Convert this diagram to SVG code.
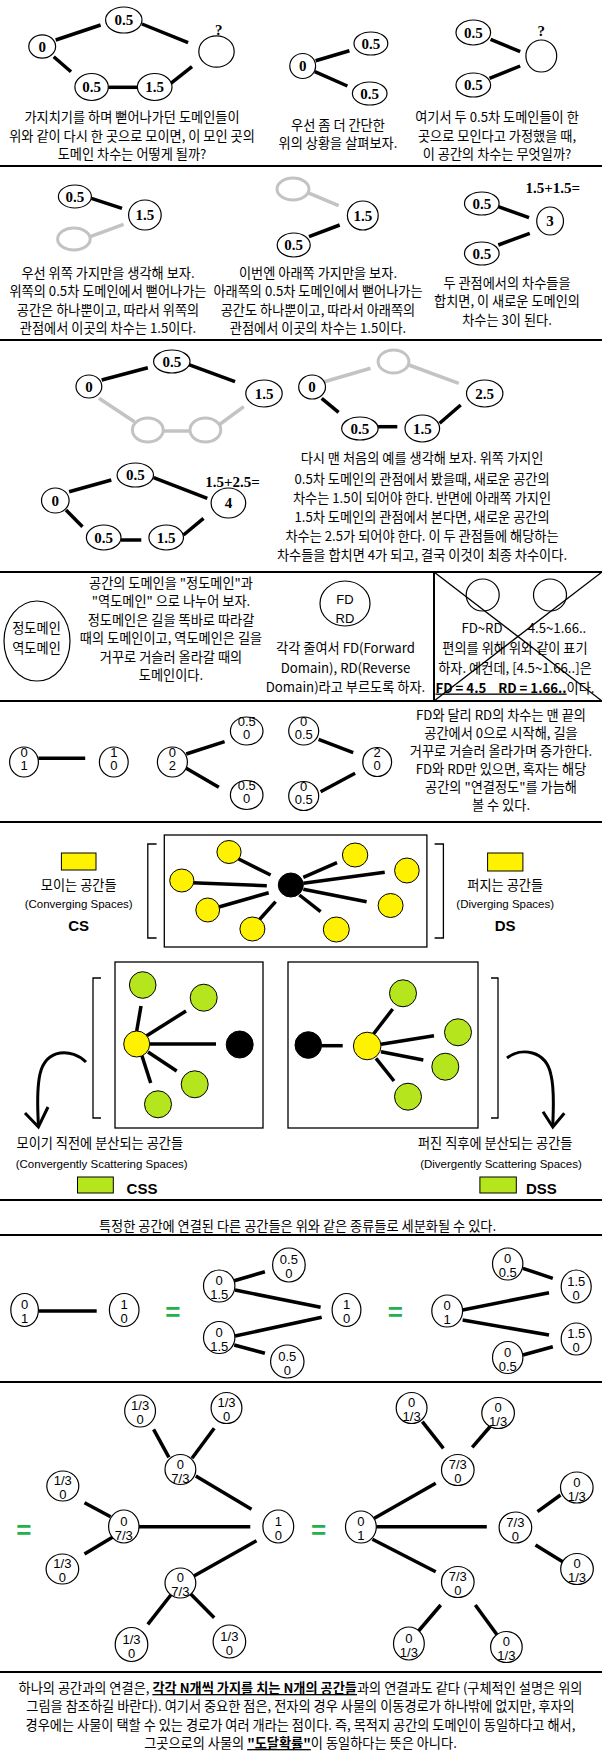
<svg xmlns="http://www.w3.org/2000/svg" width="602" height="1761" viewBox="0 0 602 1761">
<style>
.k{font-family:"Noto Sans CJK KR","Noto Sans",sans-serif;font-size:13.2px;text-anchor:middle;fill:#000}
.n{font-family:"Liberation Serif",serif;font-weight:bold;font-size:15px;text-anchor:middle;fill:#000}
.d{font-family:"Liberation Sans",sans-serif;font-size:13px;text-anchor:middle;fill:#000}
.l{font-family:"Liberation Sans",sans-serif;font-size:11.5px;text-anchor:middle;fill:#000}
.b{font-family:"Liberation Sans",sans-serif;font-weight:bold;font-size:15px;text-anchor:middle;fill:#000}
.eq{font-family:"Liberation Sans",sans-serif;font-weight:bold;font-size:26px;text-anchor:middle;fill:#22b14c}
.e{fill:#fff;stroke:#000;stroke-width:1.2}
.gc{fill:#fff;stroke:#c3c3c3;stroke-width:3}
.y{fill:#fff200;stroke:#000;stroke-width:1}
.gr{fill:#b5e61d;stroke:#000;stroke-width:1}
.bk{fill:#000;stroke:#000;stroke-width:1}
.sep{stroke:#000;stroke-width:2}
#connectors line{stroke:#000;stroke-width:3.5}
#connectors line.g{stroke:#c3c3c3}
#connectors path{fill:none;stroke:#000;stroke-width:3}
.thin{stroke:#000;stroke-width:1.3;fill:none}
</style>
<rect width="602" height="1761" fill="#fff"/>

<g id="separators">
<line class="sep" x1="0" y1="166" x2="602" y2="166"/>
<line class="sep" x1="0" y1="340" x2="602" y2="340"/>
<line class="sep" x1="0" y1="572" x2="602" y2="572"/>
<line class="sep" x1="0" y1="701" x2="602" y2="701"/>
<line class="sep" x1="434" y1="572" x2="434" y2="701"/>
<line class="sep" x1="0" y1="822" x2="602" y2="822"/>
<line class="sep" x1="0" y1="1200" x2="602" y2="1200"/>
<line class="sep" x1="0" y1="1235" x2="602" y2="1235"/>
<line class="sep" x1="0" y1="1382" x2="602" y2="1382"/>
<line class="sep" x1="0" y1="1672" x2="602" y2="1672"/>
</g>

<g id="connectors">
<!-- panel 1 -->
<line x1="55.7" y1="40" x2="100.6" y2="25"/>
<line x1="142" y1="24" x2="188.1" y2="42.7"/>
<line x1="53.7" y1="56.7" x2="71" y2="71.7"/>
<line x1="108.3" y1="87.3" x2="137.4" y2="87.3"/>
<line x1="170.8" y1="83.3" x2="192" y2="66.7"/>
<line x1="315.6" y1="60.7" x2="349.4" y2="50.7"/>
<line x1="314.8" y1="71.7" x2="347.4" y2="86"/>
<line x1="490.6" y1="39.3" x2="520.2" y2="51.7"/>
<line x1="489.5" y1="78.3" x2="520.2" y2="66"/>
<!-- panel 2 -->
<line x1="91.4" y1="198.3" x2="122" y2="208.3"/>
<line class="g" x1="90.2" y1="236.7" x2="123.6" y2="224.3"/>
<line class="g" x1="307.1" y1="192.3" x2="338.6" y2="205.7"/>
<line x1="309" y1="236.7" x2="339.7" y2="225"/>
<line x1="498.3" y1="206.7" x2="529" y2="217.7"/>
<line x1="498.3" y1="245" x2="529.8" y2="233.3"/>
<!-- panel 3 -->
<line x1="101.7" y1="380" x2="147.8" y2="367.7"/>
<line x1="188.1" y1="364.3" x2="235" y2="381.7"/>
<line class="g" x1="99" y1="398.3" x2="134.4" y2="421.7"/>
<line class="g" x1="163.2" y1="431" x2="190" y2="431"/>
<line class="g" x1="218.8" y1="425" x2="243.8" y2="406.7"/>
<line class="g" x1="324.4" y1="381.7" x2="370.5" y2="368.3"/>
<line class="g" x1="408.9" y1="365" x2="458.8" y2="383.3"/>
<line x1="321.7" y1="398.3" x2="338.6" y2="412.3"/>
<line x1="378.1" y1="426.7" x2="397.3" y2="426.7"/>
<line x1="439.6" y1="423.3" x2="460.7" y2="405"/>
<line x1="69.1" y1="491.7" x2="111.3" y2="480"/>
<line x1="153.6" y1="477.7" x2="207.3" y2="498.3"/>
<line x1="66" y1="510" x2="82.5" y2="526.7"/>
<line x1="120.9" y1="540" x2="141.3" y2="540"/>
<line x1="183.5" y1="535" x2="203.5" y2="518.3"/>
<!-- panel 5 -->
<line x1="38.4" y1="758.3" x2="85.2" y2="758.3"/>
<line x1="186.2" y1="754" x2="224.6" y2="741.7"/>
<line x1="186.2" y1="768.3" x2="218.8" y2="787.3"/>
<line x1="318.6" y1="739.3" x2="353.2" y2="752.7"/>
<line x1="320.6" y1="791.7" x2="355.1" y2="773.3"/>
<!-- panel 6 top -->
<line x1="237.2" y1="858.3" x2="270.6" y2="875"/>
<line x1="192" y1="882.7" x2="266.8" y2="885.7"/>
<line x1="218" y1="907.3" x2="268.7" y2="892.7"/>
<line x1="259.1" y1="920" x2="275.6" y2="901.7"/>
<line x1="303.3" y1="877.3" x2="337" y2="862.7"/>
<line x1="303.3" y1="883.3" x2="384.7" y2="872.3"/>
<line x1="303.3" y1="889.3" x2="366.6" y2="901.7"/>
<line x1="299.4" y1="895" x2="320.6" y2="911.7"/>
<!-- panel 6 CSS box -->
<line x1="141" y1="1006" x2="136.7" y2="1031"/>
<line x1="186" y1="1011" x2="146.7" y2="1035.7"/>
<line x1="150" y1="1044" x2="216" y2="1044"/>
<line x1="148" y1="1052" x2="176.7" y2="1071"/>
<line x1="141.7" y1="1055" x2="150.7" y2="1083"/>
<!-- panel 6 DSS box -->
<line x1="321.7" y1="1045.7" x2="342.7" y2="1045.7"/>
<line x1="373.3" y1="1034.3" x2="392.7" y2="1009"/>
<line x1="381" y1="1044.3" x2="434" y2="1035.7"/>
<line x1="381" y1="1051.7" x2="423.3" y2="1060"/>
<line x1="376" y1="1058.3" x2="394" y2="1081"/>
<!-- curved arrows -->
<path d="M86,1062 C72,1048 46,1048 40,1074 C36,1092 38,1110 38.4,1127"/>
<path d="M25,1113 L38.4,1127 L48,1107"/>
<path d="M507,1058 C521,1047 546,1050 551,1075 C555,1092 553,1110 552.8,1127"/>
<path d="M543,1111.7 L552.8,1127 L564.3,1113.3"/>
<!-- panel 7 -->
<line x1="38.4" y1="1311" x2="96.7" y2="1311"/>
<line x1="234.2" y1="1280.7" x2="264.9" y2="1271.7"/>
<line x1="235" y1="1290" x2="320.6" y2="1307.3"/>
<line x1="235" y1="1336" x2="321.7" y2="1317.3"/>
<line x1="234.2" y1="1345" x2="264.9" y2="1353.3"/>
<line x1="522.9" y1="1268.3" x2="552.8" y2="1278.3"/>
<line x1="462.6" y1="1310" x2="549" y2="1292.7"/>
<line x1="462.6" y1="1320" x2="549" y2="1335"/>
<line x1="522.9" y1="1355" x2="552.8" y2="1346.7"/>
<!-- panel 8 left -->
<line x1="139" y1="1526.7" x2="250.3" y2="1526.7"/>
<line x1="195.8" y1="1476" x2="251.5" y2="1509.3"/>
<line x1="193.9" y1="1576" x2="256.5" y2="1540.7"/>
<line x1="153.6" y1="1429.3" x2="168.9" y2="1457.3"/>
<line x1="214.2" y1="1428.3" x2="192" y2="1458.3"/>
<line x1="84.5" y1="1502.7" x2="110.6" y2="1516.7"/>
<line x1="84.5" y1="1554" x2="113.3" y2="1536.7"/>
<line x1="170.8" y1="1595" x2="147.8" y2="1624.3"/>
<line x1="190" y1="1593.3" x2="214.2" y2="1617.7"/>
<!-- panel 8 right -->
<line x1="376.2" y1="1526.7" x2="486.8" y2="1526.7"/>
<line x1="374.3" y1="1518.3" x2="435.7" y2="1483.3"/>
<line x1="372.4" y1="1539.3" x2="435.7" y2="1571.7"/>
<line x1="422.3" y1="1421.7" x2="443.4" y2="1448.3"/>
<line x1="490.6" y1="1426" x2="472.2" y2="1447.3"/>
<line x1="537.5" y1="1511.7" x2="560.5" y2="1495"/>
<line x1="535.5" y1="1545" x2="564.3" y2="1562.7"/>
<line x1="440.7" y1="1605" x2="418.5" y2="1631"/>
<line x1="475.3" y1="1605" x2="497.2" y2="1635"/>
</g>

<!-- ============ PANEL 1 ============ -->
<g id="p1-n0"><ellipse class="e" cx="42.2" cy="46.5" rx="13.4" ry="11.7"/><text class="n" x="42.2" y="51.5">0</text></g>
<g id="p1-n05a"><ellipse class="e" cx="123.8" cy="20" rx="18.2" ry="13"/><text class="n" x="123.8" y="25">0.5</text></g>
<g id="p1-nq"><ellipse class="e" cx="216.5" cy="51.5" rx="17.7" ry="15.7"/><text class="n" x="218.8" y="35" font-size="16">?</text></g>
<g id="p1-n05b"><ellipse class="e" cx="91.6" cy="87" rx="16.7" ry="13.5"/><text class="n" x="91.6" y="92">0.5</text></g>
<g id="p1-n15"><ellipse class="e" cx="154.7" cy="87" rx="17.3" ry="13.5"/><text class="n" x="154.7" y="92">1.5</text></g>
<g id="p1-cap1"><text class="k" x="132" y="122">가지치기를 하며 뻗어나가던 도메인들이</text><text class="k" x="132" y="141">위와 같이 다시 한 곳으로 모이면, 이 모인 곳의</text><text class="k" x="132" y="158.5">도메인 차수는 어떻게 될까?</text></g>

<g id="p1-m0"><ellipse class="e" cx="302.7" cy="66" rx="12.9" ry="12.5"/><text class="n" x="302.7" y="71">0</text></g>
<g id="p1-m05a"><ellipse class="e" cx="370.9" cy="43.5" rx="16.9" ry="11.5"/><text class="n" x="370.9" y="48.5">0.5</text></g>
<g id="p1-m05b"><ellipse class="e" cx="369.7" cy="93.5" rx="17.3" ry="11.5"/><text class="n" x="369.7" y="98.5">0.5</text></g>
<g id="p1-cap2"><text class="k" x="338" y="129.5">우선 좀 더 간단한</text><text class="k" x="338" y="148">위의 상황을 살펴보자.</text></g>

<g id="p1-r05a"><ellipse class="e" cx="473.3" cy="32.5" rx="17.3" ry="12.5"/><text class="n" x="473.3" y="37.5">0.5</text></g>
<g id="p1-r05b"><ellipse class="e" cx="473.3" cy="85" rx="17.3" ry="12"/><text class="n" x="473.3" y="90">0.5</text></g>
<g id="p1-rq"><ellipse class="e" cx="541.3" cy="56" rx="15.4" ry="16"/><text class="n" x="541.3" y="36" font-size="16">?</text></g>
<g id="p1-cap3"><text class="k" x="497" y="122">여기서 두 0.5차 도메인들이 한</text><text class="k" x="497" y="141">곳으로 모인다고 가정했을 때,</text><text class="k" x="497" y="158.5">이 공간의 차수는 무엇일까?</text></g>

<!-- ============ PANEL 2 ============ -->
<g id="p2-l05"><ellipse class="e" cx="74.9" cy="196.5" rx="16.5" ry="11.5"/><text class="n" x="74.9" y="201.5">0.5</text></g>
<g id="p2-l15"><ellipse class="e" cx="144.9" cy="215" rx="16.3" ry="15"/><text class="n" x="144.9" y="220">1.5</text></g>
<g id="p2-lg"><ellipse class="gc" cx="73.9" cy="239" rx="16.3" ry="11"/></g>
<g id="p2-cap1"><text class="k" x="108" y="278">우선 위쪽 가지만을 생각해 보자.</text><text class="k" x="108" y="296">위쪽의 0.5차 도메인에서 뻗어나가는</text><text class="k" x="108" y="314.5">공간은 하나뿐이고, 따라서 위쪽의</text><text class="k" x="108" y="333">관점에서 이곳의 차수는 1.5이다.</text></g>

<g id="p2-mg"><ellipse class="gc" cx="293" cy="189" rx="16" ry="11"/></g>
<g id="p2-m15"><ellipse class="e" cx="362.8" cy="215.5" rx="15.4" ry="14.5"/><text class="n" x="362.8" y="220.5">1.5</text></g>
<g id="p2-m05"><ellipse class="e" cx="293.7" cy="245" rx="16.5" ry="12"/><text class="n" x="293.7" y="250">0.5</text></g>
<g id="p2-cap2"><text class="k" x="318" y="278">이번엔 아래쪽 가지만을 보자.</text><text class="k" x="318" y="296">아래쪽의 0.5차 도메인에서 뻗어나가는</text><text class="k" x="318" y="314.5">공간도 하나뿐이고, 따라서 아래쪽의</text><text class="k" x="318" y="333">관점에서 이곳의 차수는 1.5이다.</text></g>

<g id="p2-r05a"><ellipse class="e" cx="481.8" cy="203.5" rx="17.3" ry="11.5"/><text class="n" x="481.8" y="208.5">0.5</text></g>
<g id="p2-r3"><ellipse class="e" cx="550.1" cy="221" rx="13.4" ry="14"/><text class="n" x="550.1" y="226">3</text></g>
<g id="p2-r05b"><ellipse class="e" cx="481.8" cy="253.5" rx="17.3" ry="11.5"/><text class="n" x="481.8" y="258.5">0.5</text></g>
<text class="n" x="552.8" y="193" font-size="14">1.5+1.5=</text>
<g id="p2-cap3"><text class="k" x="507" y="288">두 관점에서의 차수들을</text><text class="k" x="507" y="306">합치면, 이 새로운 도메인의</text><text class="k" x="507" y="324.5">차수는 3이 된다.</text></g>

<!-- ============ PANEL 3 ============ -->
<g id="p3-a0"><ellipse class="e" cx="88.9" cy="386.5" rx="12.9" ry="11.5"/><text class="n" x="88.9" y="391.5">0</text></g>
<g id="p3-a05"><ellipse class="e" cx="171.8" cy="361.5" rx="18.2" ry="11.5"/><text class="n" x="171.8" y="366.5">0.5</text></g>
<g id="p3-a15"><ellipse class="e" cx="264" cy="393.5" rx="18.2" ry="13.5"/><text class="n" x="264" y="398.5">1.5</text></g>
<g id="p3-ag1"><ellipse class="gc" cx="147.8" cy="430" rx="15.4" ry="12"/></g>
<g id="p3-ag2"><ellipse class="gc" cx="205.4" cy="430" rx="15.4" ry="12"/></g>

<g id="p3-bg"><ellipse class="gc" cx="393.5" cy="361.5" rx="15.4" ry="11.5"/></g>
<g id="p3-b0"><ellipse class="e" cx="312.1" cy="387" rx="13.4" ry="12"/><text class="n" x="312.1" y="392">0</text></g>
<g id="p3-b25"><ellipse class="e" cx="484.7" cy="393.5" rx="18.2" ry="13.5"/><text class="n" x="484.7" y="398.5">2.5</text></g>
<g id="p3-b05"><ellipse class="e" cx="359.9" cy="428.5" rx="18.2" ry="11.5"/><text class="n" x="359.9" y="433.5">0.5</text></g>
<g id="p3-b15"><ellipse class="e" cx="422.3" cy="428.5" rx="17.3" ry="13.5"/><text class="n" x="422.3" y="433.5">1.5</text></g>

<g id="p3-c0"><ellipse class="e" cx="55.3" cy="500.5" rx="13.8" ry="12.5"/><text class="n" x="55.3" y="505.5">0</text></g>
<g id="p3-c05a"><ellipse class="e" cx="135.3" cy="475" rx="18.2" ry="12"/><text class="n" x="135.3" y="480">0.5</text></g>
<g id="p3-c4"><ellipse class="e" cx="228.4" cy="503" rx="17.3" ry="15"/><text class="n" x="228.4" y="508">4</text></g>
<g id="p3-c05b"><ellipse class="e" cx="103.7" cy="537.5" rx="17.3" ry="12.5"/><text class="n" x="103.7" y="542.5">0.5</text></g>
<g id="p3-c15"><ellipse class="e" cx="166.2" cy="537.5" rx="17.3" ry="12.5"/><text class="n" x="166.2" y="542.5">1.5</text></g>
<text class="n" x="232.6" y="487" font-size="14">1.5+2.5=</text>
<g id="p3-cap"><text class="k" x="422" y="463">다시 맨 처음의 예를 생각해 보자. 위쪽 가지인</text><text class="k" x="422" y="483.5">0.5차 도메인의 관점에서 봤을때, 새로운 공간의</text><text class="k" x="422" y="503">차수는 1.5이 되어야 한다. 반면에 아래쪽 가지인</text><text class="k" x="422" y="522">1.5차 도메인의 관점에서 본다면, 새로운 공간의</text><text class="k" x="422" y="541">차수는 2.5가 되어야 한다. 이 두 관점들에 해당하는</text><text class="k" x="422" y="559.5">차수들을 합치면 4가 되고, 결국 이것이 최종 차수이다.</text></g>

<!-- ============ PANEL 4 ============ -->
<g id="p4-domain"><ellipse class="e" cx="37" cy="641" rx="33" ry="40"/><text class="k" x="36.5" y="632.5">정도메인</text><text class="k" x="36.5" y="652.5">역도메인</text></g>
<g id="p4-cap1"><text class="k" x="171" y="587.5">공간의 도메인을 "정도메인"과</text><text class="k" x="171" y="606">"역도메인" 으로 나누어 보자.</text><text class="k" x="171" y="624.5">정도메인은 길을 똑바로 따라갈</text><text class="k" x="171" y="643">때의 도메인이고, 역도메인은 길을</text><text class="k" x="171" y="661.5">거꾸로 거슬러 올라갈 때의</text><text class="k" x="171" y="680">도메인이다.</text></g>
<g id="p4-fdrd"><ellipse class="e" cx="345" cy="603.5" rx="25" ry="22.5"/><text class="d" x="345" y="603.5">FD</text><text class="d" x="345" y="622.5">RD</text></g>
<g id="p4-cap2"><text class="k" x="345.5" y="652.5">각각 줄여서 FD(Forward</text><text class="k" x="345.5" y="672.5">Domain), RD(Reverse</text><text class="k" x="345.5" y="691.5">Domain)라고 부르도록 하자.</text></g>
<g id="p4-x">
<ellipse class="e" cx="482.7" cy="595" rx="16.5" ry="16"/>
<ellipse class="e" cx="550" cy="595" rx="16.5" ry="16"/>
<text class="k" x="482" y="632.5">FD~RD</text>
<text class="k" x="557" y="632.5">4.5~1.66..</text>
<text class="k" x="515" y="652.5">편의를 위해 위와 같이 표기</text>
<text class="k" x="515" y="672.5">하자. 예컨데, [4.5~1.66..]은</text>
<text class="k" x="515" y="692.5" style="white-space:pre"><tspan font-weight="bold" text-decoration="underline">FD = 4.5    RD = 1.66..</tspan>이다.</text>
<line class="thin" x1="434" y1="572" x2="602" y2="701"/>
<line class="thin" x1="434" y1="701" x2="602" y2="572"/>
</g>

<!-- ============ PANEL 5 ============ -->
<g id="p5-a"><ellipse class="e" cx="24" cy="762" rx="14.4" ry="15"/><text class="d" x="24" y="757">0</text><text class="d" x="24" y="770">1</text></g>
<g id="p5-b"><ellipse class="e" cx="113.8" cy="762" rx="14.4" ry="15"/><text class="d" x="113.8" y="757">1</text><text class="d" x="113.8" y="770">0</text></g>
<g id="p5-c"><ellipse class="e" cx="172.4" cy="762" rx="15" ry="15"/><text class="d" x="172.4" y="757">0</text><text class="d" x="172.4" y="770">2</text></g>
<g id="p5-d"><ellipse class="e" cx="246.7" cy="731" rx="16.3" ry="14"/><text class="d" x="246.7" y="726">0.5</text><text class="d" x="246.7" y="739">0</text></g>
<g id="p5-e"><ellipse class="e" cx="246.7" cy="795" rx="16.3" ry="14.5"/><text class="d" x="246.7" y="790">0.5</text><text class="d" x="246.7" y="803">0</text></g>
<g id="p5-f"><ellipse class="e" cx="303.7" cy="731" rx="15" ry="14"/><text class="d" x="303.7" y="726">0</text><text class="d" x="303.7" y="739">0.5</text></g>
<g id="p5-g"><ellipse class="e" cx="303.7" cy="796" rx="15" ry="14.5"/><text class="d" x="303.7" y="791">0</text><text class="d" x="303.7" y="804">0.5</text></g>
<g id="p5-h"><ellipse class="e" cx="377.2" cy="762" rx="14.4" ry="14.5"/><text class="d" x="377.2" y="757">2</text><text class="d" x="377.2" y="770">0</text></g>
<g id="p5-cap"><text class="k" x="501" y="719.5">FD와 달리 RD의 차수는 맨 끝의</text><text class="k" x="501" y="737.5">공간에서 0으로 시작해, 길을</text><text class="k" x="501" y="755.5">거꾸로 거슬러 올라가며 증가한다.</text><text class="k" x="501" y="773.5">FD와 RD만 있으면, 혹자는 해당</text><text class="k" x="501" y="791.5">공간의 "연결정도"를 가늠해</text><text class="k" x="501" y="809.5">볼 수 있다.</text></g>

<!-- ============ PANEL 6 ============ -->
<g id="p6-top">
<rect x="164.3" y="835" width="262.6" height="112" fill="none" stroke="#000" stroke-width="1.3"/>
<path class="thin" d="M156.6,844 H147.8 V938 H156.6"/>
<path class="thin" d="M434.6,844 H443.4 V938 H434.6"/>
<ellipse class="bk" cx="290.8" cy="885" rx="12.5" ry="12"/>
<ellipse class="y" cx="229" cy="852" rx="12.1" ry="11.5"/>
<ellipse class="y" cx="181.8" cy="880.5" rx="12.1" ry="11.5"/>
<ellipse class="y" cx="207.7" cy="910" rx="11.9" ry="12"/>
<ellipse class="y" cx="252.4" cy="929" rx="12.5" ry="12"/>
<ellipse class="y" cx="355.1" cy="855" rx="12.7" ry="12"/>
<ellipse class="y" cx="406.9" cy="870.5" rx="12.3" ry="12.5"/>
<ellipse class="y" cx="390.6" cy="905.5" rx="12.5" ry="12"/>
<ellipse class="y" cx="336.3" cy="929.5" rx="13" ry="12.5"/>
</g>
<g id="p6-cs">
<rect class="y" x="61.4" y="853" width="34.6" height="17"/>
<text class="k" x="78.7" y="889.5">모이는 공간들</text>
<text class="l" x="78.7" y="907.5">(Converging Spaces)</text>
<text class="b" x="78.7" y="930.5">CS</text>
</g>
<g id="p6-ds">
<rect class="y" x="487.6" y="853" width="35.3" height="18"/>
<text class="k" x="505.2" y="889.5">퍼지는 공간들</text>
<text class="l" x="505.2" y="907.5">(Diverging Spaces)</text>
<text class="b" x="505.2" y="930.5">DS</text>
</g>
<g id="p6-cssbox">
<rect x="115" y="962" width="148" height="166" fill="none" stroke="#000" stroke-width="1.3"/>
<path class="thin" d="M101,978 H93 V1118 H101"/>
<circle class="gr" cx="142.7" cy="985" r="13.3"/>
<circle class="gr" cx="203.7" cy="997.7" r="13.5"/>
<circle class="y" cx="136.7" cy="1044" r="13"/>
<circle class="bk" cx="239.7" cy="1044.5" r="13.5"/>
<circle class="gr" cx="194.7" cy="1084.3" r="13.5"/>
<circle class="gr" cx="158" cy="1104.3" r="13.5"/>
</g>
<g id="p6-dssbox">
<rect x="288" y="962" width="190" height="166" fill="none" stroke="#000" stroke-width="1.3"/>
<path class="thin" d="M491,978 H498 V1118 H491"/>
<circle class="bk" cx="308.3" cy="1045" r="13.3"/>
<circle class="y" cx="367.2" cy="1046" r="13.8"/>
<circle class="gr" cx="403" cy="993.3" r="13.5"/>
<circle class="gr" cx="458" cy="1032.3" r="13.5"/>
<circle class="gr" cx="445.3" cy="1066.7" r="13.5"/>
<circle class="gr" cx="408" cy="1096.7" r="13.5"/>
</g>
<g id="p6-css">
<text class="k" x="99.8" y="1147.5">모이기 직전에 분산되는 공간들</text>
<text class="l" x="101.7" y="1167.5">(Convergently Scattering Spaces)</text>
<rect class="gr" x="77.5" y="1177" width="35.8" height="16"/>
<text class="b" x="142" y="1193.5">CSS</text>
</g>
<g id="p6-dss">
<text class="k" x="495.2" y="1147.5">퍼진 직후에 분산되는 공간들</text>
<text class="l" x="501" y="1167.5">(Divergently Scattering Spaces)</text>
<rect class="gr" x="479.9" y="1177" width="36.4" height="16"/>
<text class="b" x="541.3" y="1193.5">DSS</text>
</g>
<text class="k" x="297.5" y="1231">특정한 공간에 연결된 다른 공간들은 위와 같은 종류들로 세분화될 수 있다.</text>

<!-- ============ PANEL 7 ============ -->
<g id="p7-a"><ellipse class="e" cx="24.6" cy="1310" rx="13.8" ry="16.5"/><text class="d" x="24.6" y="1309">0</text><text class="d" x="24.6" y="1323">1</text></g>
<g id="p7-b"><ellipse class="e" cx="124.2" cy="1310" rx="14.8" ry="16.5"/><text class="d" x="124.2" y="1309">1</text><text class="d" x="124.2" y="1323">0</text></g>
<text class="eq" x="172.8" y="1320.5">=</text>
<g id="p7-c"><ellipse class="e" cx="288.9" cy="1265" rx="16.3" ry="17"/><text class="d" x="288.9" y="1264">0.5</text><text class="d" x="288.9" y="1278">0</text></g>
<g id="p7-d"><ellipse class="e" cx="219.2" cy="1286" rx="15.7" ry="16"/><text class="d" x="219.2" y="1285">0</text><text class="d" x="219.2" y="1299">1.5</text></g>
<g id="p7-e"><ellipse class="e" cx="346.5" cy="1310" rx="14.4" ry="16.5"/><text class="d" x="346.5" y="1309">1</text><text class="d" x="346.5" y="1323">0</text></g>
<g id="p7-f"><ellipse class="e" cx="219.2" cy="1337.5" rx="15.7" ry="16"/><text class="d" x="219.2" y="1336.5">0</text><text class="d" x="219.2" y="1350.5">1.5</text></g>
<g id="p7-g"><ellipse class="e" cx="287.3" cy="1361.5" rx="16.7" ry="16.5"/><text class="d" x="287.3" y="1360.5">0.5</text><text class="d" x="287.3" y="1374.5">0</text></g>
<text class="eq" x="395.4" y="1320.5">=</text>
<g id="p7-h"><ellipse class="e" cx="447.2" cy="1311" rx="15.4" ry="16"/><text class="d" x="447.2" y="1310">0</text><text class="d" x="447.2" y="1324">1</text></g>
<g id="p7-i"><ellipse class="e" cx="507.7" cy="1264" rx="15.2" ry="16"/><text class="d" x="507.7" y="1263">0</text><text class="d" x="507.7" y="1277">0.5</text></g>
<g id="p7-j"><ellipse class="e" cx="576.2" cy="1286.5" rx="15" ry="16.5"/><text class="d" x="576.2" y="1285.5">1.5</text><text class="d" x="576.2" y="1299.5">0</text></g>
<g id="p7-k"><ellipse class="e" cx="576.2" cy="1339" rx="15" ry="16"/><text class="d" x="576.2" y="1338">1.5</text><text class="d" x="576.2" y="1352">0</text></g>
<g id="p7-l"><ellipse class="e" cx="507.7" cy="1357.5" rx="15.2" ry="16"/><text class="d" x="507.7" y="1356.5">0</text><text class="d" x="507.7" y="1370.5">0.5</text></g>

<!-- ============ PANEL 8 ============ -->
<text class="eq" x="23.8" y="1539">=</text>
<g id="p8-a"><ellipse class="e" cx="278.3" cy="1526.5" rx="15.4" ry="16.5"/><text class="d" x="278.3" y="1525.5">1</text><text class="d" x="278.3" y="1539.5">0</text></g>
<g id="p8-b"><ellipse class="e" cx="123.8" cy="1526.5" rx="15.2" ry="16.5"/><text class="d" x="123.8" y="1525.5">0</text><text class="d" x="123.8" y="1539.5">7/3</text></g>
<g id="p8-c"><ellipse class="e" cx="180.4" cy="1469.5" rx="15.4" ry="15"/><text class="d" x="180.4" y="1468.5">0</text><text class="d" x="180.4" y="1482.5">7/3</text></g>
<g id="p8-d"><ellipse class="e" cx="180.4" cy="1583" rx="15.4" ry="15"/><text class="d" x="180.4" y="1582">0</text><text class="d" x="180.4" y="1596">7/3</text></g>
<g id="p8-e"><ellipse class="e" cx="140.1" cy="1411" rx="15.4" ry="16"/><text class="d" x="140.1" y="1410">1/3</text><text class="d" x="140.1" y="1424">0</text></g>
<g id="p8-f"><ellipse class="e" cx="226.5" cy="1408" rx="15.4" ry="15.5"/><text class="d" x="226.5" y="1407">1/3</text><text class="d" x="226.5" y="1421">0</text></g>
<g id="p8-g"><ellipse class="e" cx="62.8" cy="1486" rx="16" ry="15"/><text class="d" x="62.8" y="1485">1/3</text><text class="d" x="62.8" y="1499">0</text></g>
<g id="p8-h"><ellipse class="e" cx="62.4" cy="1569" rx="16.3" ry="15"/><text class="d" x="62.4" y="1568">1/3</text><text class="d" x="62.4" y="1582">0</text></g>
<g id="p8-i"><ellipse class="e" cx="131.5" cy="1644.5" rx="16.3" ry="17"/><text class="d" x="131.5" y="1643.5">1/3</text><text class="d" x="131.5" y="1657.5">0</text></g>
<g id="p8-j"><ellipse class="e" cx="229.4" cy="1641.5" rx="16.3" ry="16.5"/><text class="d" x="229.4" y="1640.5">1/3</text><text class="d" x="229.4" y="1654.5">0</text></g>
<text class="eq" x="318.6" y="1539">=</text>
<g id="p8-k"><ellipse class="e" cx="360.9" cy="1527" rx="15.4" ry="16"/><text class="d" x="360.9" y="1526">0</text><text class="d" x="360.9" y="1540">1</text></g>
<g id="p8-l"><ellipse class="e" cx="457.8" cy="1470" rx="16.3" ry="15.5"/><text class="d" x="457.8" y="1469">7/3</text><text class="d" x="457.8" y="1483">0</text></g>
<g id="p8-m"><ellipse class="e" cx="515.4" cy="1527.5" rx="16.3" ry="15.5"/><text class="d" x="515.4" y="1526.5">7/3</text><text class="d" x="515.4" y="1540.5">0</text></g>
<g id="p8-n"><ellipse class="e" cx="457.8" cy="1582" rx="16.3" ry="15.5"/><text class="d" x="457.8" y="1581">7/3</text><text class="d" x="457.8" y="1595">0</text></g>
<g id="p8-o"><ellipse class="e" cx="411.6" cy="1408" rx="15.4" ry="15.5"/><text class="d" x="411.6" y="1407">0</text><text class="d" x="411.6" y="1421">1/3</text></g>
<g id="p8-p"><ellipse class="e" cx="498.1" cy="1413" rx="16.3" ry="15.5"/><text class="d" x="498.1" y="1412">0</text><text class="d" x="498.1" y="1426">1/3</text></g>
<g id="p8-q"><ellipse class="e" cx="576.8" cy="1487.5" rx="16.3" ry="15.5"/><text class="d" x="576.8" y="1486.5">0</text><text class="d" x="576.8" y="1500.5">1/3</text></g>
<g id="p8-r"><ellipse class="e" cx="577" cy="1569" rx="16.3" ry="15.5"/><text class="d" x="577" y="1568">0</text><text class="d" x="577" y="1582">1/3</text></g>
<g id="p8-s"><ellipse class="e" cx="408.9" cy="1643.5" rx="15.4" ry="16.5"/><text class="d" x="408.9" y="1642.5">0</text><text class="d" x="408.9" y="1656.5">1/3</text></g>
<g id="p8-t"><ellipse class="e" cx="506.4" cy="1647" rx="15.8" ry="15.5"/><text class="d" x="506.4" y="1646">0</text><text class="d" x="506.4" y="1660">1/3</text></g>

<g id="p8-cap">
<text class="k" x="300.5" y="1693">하나의 공간과의 연결은, <tspan font-weight="bold" text-decoration="underline">각각 N개씩 가지를 치는 N개의 공간들</tspan>과의 연결과도 같다 (구체적인 설명은 위의</text>
<text class="k" x="300.5" y="1711">그림을 참조하길 바란다). 여기서 중요한 점은, 전자의 경우 사물의 이동경로가 하나밖에 없지만, 후자의</text>
<text class="k" x="300.5" y="1729.5">경우에는 사물이 택할 수 있는 경로가 여러 개라는 점이다. 즉, 목적지 공간의 도메인이 동일하다고 해서,</text>
<text class="k" x="300.5" y="1748">그곳으로의 사물의 <tspan font-weight="bold" text-decoration="underline">"도달확률"</tspan>이 동일하다는 뜻은 아니다.</text>
</g>
</svg>
